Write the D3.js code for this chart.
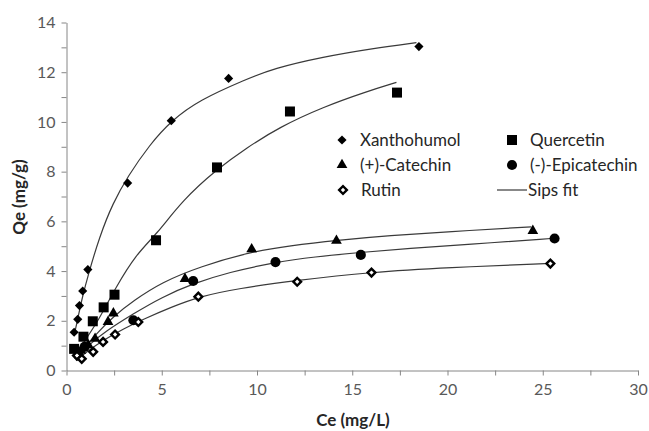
<!DOCTYPE html>
<html>
<head>
<meta charset="utf-8">
<script src="https://cdn.jsdelivr.net/npm/d3@7"></script>
<style>
  body { margin: 0; background: #fff; }
  svg { font-family: Lato, "Open Sans", sans-serif; }
  .axis path, .axis line { stroke: #868686; }
  .axis text { fill: #595959; font-size: 16px; font-family: Lato, sans-serif; }
</style>
</head>
<body>
<svg id="chart" width="649" height="431"></svg>
<script>
// measured points, [Ce, Qe]
const xanthohumol = [[0.40,1.54],[0.59,2.06],[0.68,2.61],[0.85,3.20],[1.12,4.06],[3.21,7.54],[5.50,10.05],[8.51,11.75],[18.5,13.03]];
const quercetin = [[0.40,0.87],[0.89,1.36],[1.38,1.98],[1.95,2.54],[2.52,3.05],[4.70,5.24],[7.90,8.17],[11.73,10.42],[17.35,11.18]];
const catechin = [[0.75,0.80],[1.15,1.02],[1.50,1.28],[2.18,1.96],[2.46,2.30],[6.22,3.69],[9.72,4.88],[14.17,5.22],[24.48,5.62]];
const epicatechin = [[0.62,0.62],[0.95,0.95],[3.51,2.02],[6.65,3.60],[10.97,4.36],[15.45,4.65],[25.62,5.31]];
const rutin = [[0.55,0.60],[0.80,0.47],[1.40,0.75],[1.92,1.15],[2.55,1.45],[3.77,1.95],[6.92,2.97],[12.11,3.57],[16.01,3.94],[25.40,4.30]];

// Sips fit lines
const fitXanthohumol = [[0.40,1.40],[0.65,2.30],[0.85,3.00],[1.12,3.80],[1.73,5.38],[2.43,6.73],[3.21,7.80],[4.35,9.07],[5.50,10.05],[6.97,10.88],[9.42,11.71],[10.85,12.15],[13.47,12.62],[16.09,12.96],[18.37,13.19]];
const fitQuercetin = [[0.45,0.60],[1.00,1.25],[1.67,2.00],[2.55,3.30],[3.69,4.71],[4.70,5.45],[6.10,6.86],[7.90,8.10],[9.42,8.94],[11.20,9.80],[13.47,10.60],[15.75,11.22],[17.32,11.59]];
const fitCatechin = [[0.70,0.70],[1.50,1.42],[2.50,2.20],[3.50,2.80],[5.00,3.55],[7.00,4.18],[9.70,4.78],[11.70,5.02],[14.20,5.24],[17.00,5.43],[20.00,5.58],[24.40,5.78]];
const fitEpicatechin = [[0.60,0.55],[1.20,1.05],[2.00,1.55],[3.50,2.28],[5.00,2.95],[6.65,3.50],[8.50,3.95],[11.00,4.36],[13.00,4.57],[15.40,4.75],[18.00,4.91],[21.00,5.07],[25.60,5.32]];
const fitRutin = [[0.50,0.40],[1.00,0.72],[2.00,1.25],[3.00,1.68],[4.00,2.05],[5.50,2.55],[7.00,2.98],[9.00,3.30],[12.00,3.62],[16.00,3.96],[20.00,4.14],[25.40,4.31]];

const legendNames = ["Xanthohumol", "Quercetin", "(+)-Catechin", "(-)-Epicatechin", "Rutin", "Sips fit"];
const xTicks = [0, 5, 10, 15, 20, 25, 30];
const yTicks = [0, 2, 4, 6, 8, 10, 12, 14];

const svg = d3.select("#chart");
const x = d3.scaleLinear().domain([0, 30]).range([66.5, 638]);
const y = d3.scaleLinear().domain([0, 14]).range([370.5, 22.5]);

// axes
svg.append("g").attr("class", "axis")
    .attr("transform", "translate(0,370.5)")
    .call(d3.axisBottom(x).tickValues(d3.range(0, 30.1, 2.5)).tickSize(5).tickSizeOuter(0)
        .tickFormat(d => xTicks.includes(d) ? d : ""))
    .call(g => g.selectAll("text").attr("dy", "1.05em"));

svg.append("g").attr("class", "axis")
    .attr("transform", "translate(66.5,0)")
    .call(d3.axisLeft(y).tickValues(d3.range(0, 14.1, 1)).tickSize(5).tickSizeOuter(0)
        .tickFormat(d => yTicks.includes(d) ? d : ""))
    .call(g => g.selectAll("text").attr("x", -11));

svg.append("text")
    .attr("x", 353).attr("y", 426)
    .attr("text-anchor", "middle")
    .attr("font-size", 17).attr("font-weight", "bold").attr("fill", "#262626")
    .text("Ce (mg/L)");

svg.append("text")
    .attr("transform", "translate(25,197) rotate(-90)")
    .attr("text-anchor", "middle")
    .attr("font-size", 17).attr("font-weight", "bold").attr("fill", "#262626")
    .text("Qe (mg/g)");

// fit lines
const line = d3.line().x(d => x(d[0])).y(d => y(d[1])).curve(d3.curveBasis);
[fitXanthohumol, fitQuercetin, fitCatechin, fitEpicatechin, fitRutin].forEach(f => {
    svg.append("path")
        .attr("d", line(f))
        .attr("fill", "none")
        .attr("stroke", "#3a3a3a")
        .attr("stroke-width", 1.2);
});

// markers
const styles = [
    {sym: d3.symbolSquare, size: 42, rot: 45, fill: "#000", stroke: "none", sw: 0},
    {sym: d3.symbolSquare, size: 100, rot: 0, fill: "#000", stroke: "none", sw: 0},
    {sym: d3.symbolTriangle, size: 50, rot: 0, fill: "#000", stroke: "none", sw: 0},
    {sym: d3.symbolCircle, size: 80, rot: 0, fill: "#000", stroke: "none", sw: 0},
    {sym: d3.symbolSquare, size: 30, rot: 45, fill: "#fff", stroke: "#000", sw: 2.4}
];
const series = [xanthohumol, quercetin, catechin, epicatechin, rutin];

const drawMarker = (g, s) => g
    .attr("d", d3.symbol().type(s.sym).size(s.size))
    .attr("fill", s.fill)
    .attr("stroke", s.stroke)
    .attr("stroke-width", s.sw);

series.forEach((data, i) => {
    const s = styles[i];
    svg.append("g").selectAll("path")
        .data(data)
        .join("path")
        .attr("transform", d => `translate(${x(d[0])},${y(d[1])}) rotate(${s.rot})`)
        .call(drawMarker, s);
});

// legend
const legendPos = [[342, 140], [512, 140], [342, 165], [512, 165], [343, 190], [512, 190]];
legendNames.forEach((name, i) => {
    const [lx, ly] = legendPos[i];
    if (i < 5) {
        const s = styles[i];
        svg.append("path")
            .attr("transform", `translate(${lx},${ly}) rotate(${s.rot})`)
            .call(drawMarker, s);
        svg.append("text")
            .attr("x", lx + 18).attr("y", ly).attr("dy", "0.35em")
            .attr("font-size", 17).attr("fill", "#262626")
            .text(name);
    } else {
        svg.append("line")
            .attr("x1", 497).attr("x2", 527).attr("y1", ly).attr("y2", ly)
            .attr("stroke", "#3a3a3a").attr("stroke-width", 1.2);
        svg.append("text")
            .attr("x", 528).attr("y", ly).attr("dy", "0.35em")
            .attr("font-size", 17).attr("fill", "#262626")
            .text(name);
    }
});
</script>
</body>
</html>
